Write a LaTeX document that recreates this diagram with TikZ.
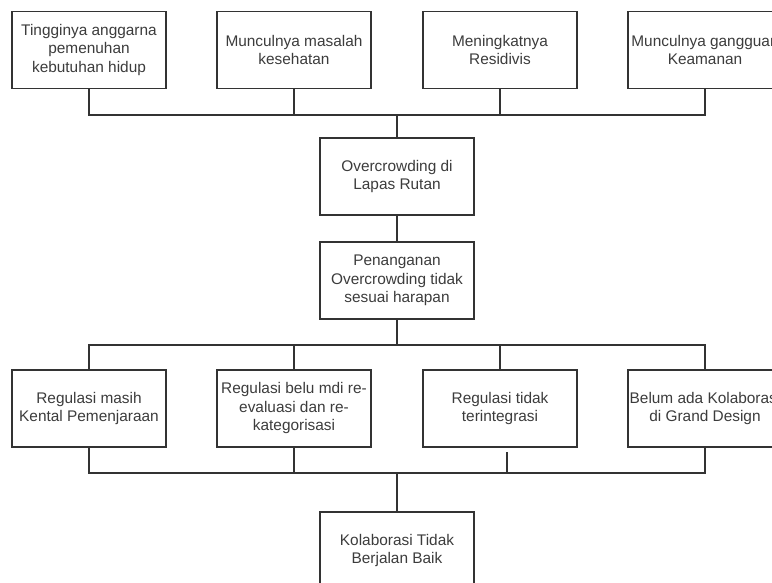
\documentclass[tikz,border=0pt]{standalone}
\usepackage{fontspec}
\setmainfont{Liberation Sans}
\definecolor{linec}{HTML}{333333}
\definecolor{textc}{HTML}{3C3C3C}
\begin{document}
\begin{tikzpicture}[x=1pt,y=-1pt,
  box/.style={draw=linec,line width=1.25pt,fill=white,minimum width=154pt,minimum height=77pt,
    align=center,inner sep=0pt,text=textc,font=\fontsize{15.4}{18.5}\selectfont},
  conn/.style={draw=linec,line width=1.25pt}]
\useasboundingbox (0,0) rectangle (772,582);
% top row
\node[box] (t1) at (89,50) {Tingginya anggarna\\pemenuhan\\kebutuhan hidup};
\node[box] (t2) at (294,50) {Munculnya masalah\\kesehatan};
\node[box] (t3) at (500,50) {Meningkatnya\\Residivis};
\node[box] (t4) at (705,50) {Munculnya gangguan\\Keamanan};
% middle
\node[box] (over) at (397,176.5) {Overcrowding di\\Lapas Rutan};
\node[box] (pen) at (397,280.5) {Penanganan\\Overcrowding tidak\\sesuai harapan};
% bottom row
\node[box] (b1) at (89,408.5) {Regulasi masih\\Kental Pemenjaraan};
\node[box] (b2) at (294,408.5) {Regulasi belu mdi re-\\evaluasi dan re-\\kategorisasi};
\node[box] (b3) at (500,408.5) {Regulasi tidak\\terintegrasi};
\node[box] (b4) at (705,408.5) {Belum ada Kolaborasi\\di Grand Design};
\node[box] (kol) at (397,550.5) {Kolaborasi Tidak\\Berjalan Baik};
% buses
\coordinate (bus1) at (397,115);
\coordinate (bus2) at (397,345);
\coordinate (bus3) at (397,473);
\coordinate (b3x) at (507,452);
\draw[conn] (t1.south) |- (bus1) -| (t4.south);
\draw[conn] (t2.south) -- (t2.south |- bus1);
\draw[conn] (t3.south) -- (t3.south |- bus1);
\draw[conn] (bus1) -- (over.north);
\draw[conn] (over.south) -- (pen.north);
\draw[conn] (pen.south) -- (bus2);
\draw[conn] (b1.north) |- (bus2) -| (b4.north);
\draw[conn] (b2.north) -- (b2.north |- bus2);
\draw[conn] (b3.north) -- (b3.north |- bus2);
\draw[conn] (b1.south) |- (bus3) -| (b4.south);
\draw[conn] (b2.south) -- (b2.south |- bus3);
\draw[conn] (b3x) -- (b3x |- bus3);
\draw[conn] (bus3) -- (kol.north);
\end{tikzpicture}
\end{document}
